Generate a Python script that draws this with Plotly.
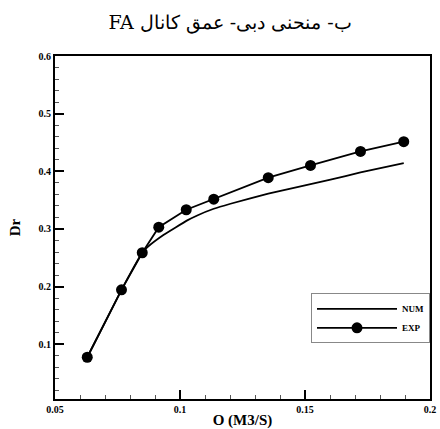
import plotly.graph_objects as go

title_text = "ب- منحنی دبی- عمق کانال FA"

exp_q = [0.0629, 0.0766, 0.0849, 0.0915, 0.1025, 0.1135, 0.1353, 0.1522, 0.1722, 0.1895]
exp_dr = [0.0774, 0.1944, 0.2587, 0.3030, 0.3333, 0.3517, 0.3889, 0.4102, 0.4345, 0.4514]

num_q = [0.0629, 0.0766, 0.0849, 0.0870, 0.0935, 0.1029, 0.1069, 0.1135, 0.1202, 0.1353, 0.1469, 0.1602, 0.1722, 0.1895]
num_dr = [0.0774, 0.1944, 0.2587, 0.2684, 0.2898, 0.3148, 0.3234, 0.3350, 0.3437, 0.3611, 0.3725, 0.3855, 0.3980, 0.4142]

serif = "Liberation Serif, Times New Roman, serif"

fig = go.Figure()
fig.add_trace(go.Scatter(x=num_q, y=num_dr, mode="lines", name="NUM",
                         line=dict(color="black", width=1.8, shape="spline", smoothing=0.3)))
fig.add_trace(go.Scatter(x=exp_q, y=exp_dr, mode="lines+markers", name="EXP",
                         line=dict(color="black", width=1.8),
                         marker=dict(color="black", size=11)))

fig.update_layout(
    width=440, height=429,
    margin=dict(l=54.5, r=9.5, t=55.7, b=30),
    paper_bgcolor="white", plot_bgcolor="white",
    title=dict(text="\u202B" + title_text + "\u202C", x=0.523, xanchor="center", y=0.948, yanchor="middle",
               font=dict(family="DejaVu Serif, Liberation Serif, serif", size=19, color="black")),
    showlegend=True,
    legend=dict(x=1, xanchor="right", y=0.308, yanchor="top",
                bgcolor="white", bordercolor="#888888", borderwidth=1,
                font=dict(family=serif, size=9, color="black", weight="bold"),
                itemwidth=80, tracegroupgap=0),
    font=dict(family=serif, color="black"),
)

fig.update_xaxes(range=[0.05, 0.2], tickmode="array", tickvals=[0.05, 0.1, 0.15, 0.2],
                 ticktext=["0.05", "0.1", "0.15", "0.2"], automargin=False,
                 ticks="inside", ticklen=9, tickwidth=2, tickcolor="black",
                 minor=dict(ticks="inside", ticklen=4, tickwidth=1, tickcolor="#555555", dtick=0.01, showgrid=False),
                 showline=True, linecolor="black", linewidth=2, mirror=True,
                 showgrid=False, zeroline=False,
                 tickfont=dict(family=serif, size=10, color="black", weight="bold"),
                 title=dict(text="O (M3/S)", standoff=6,
                            font=dict(family=serif, size=15, color="black", weight="bold")))
fig.update_yaxes(range=[0.005, 0.6], tickmode="array", tickvals=[0.1, 0.2, 0.3, 0.4, 0.5, 0.6],
                 ticktext=["0.1", "0.2", "0.3", "0.4", "0.5", "0.6"], automargin=False,
                 ticks="inside", ticklen=9, tickwidth=2, tickcolor="black",
                 minor=dict(ticks="inside", ticklen=4, tickwidth=1, tickcolor="#555555", dtick=0.02, showgrid=False),
                 showline=True, linecolor="black", linewidth=2, mirror=True,
                 showgrid=False, zeroline=False,
                 tickfont=dict(family=serif, size=10, color="black", weight="bold"),
                 title=dict(text="Dr", standoff=14,
                            font=dict(family=serif, size=15, color="black", weight="bold")))

fig.write_html("out.html")
